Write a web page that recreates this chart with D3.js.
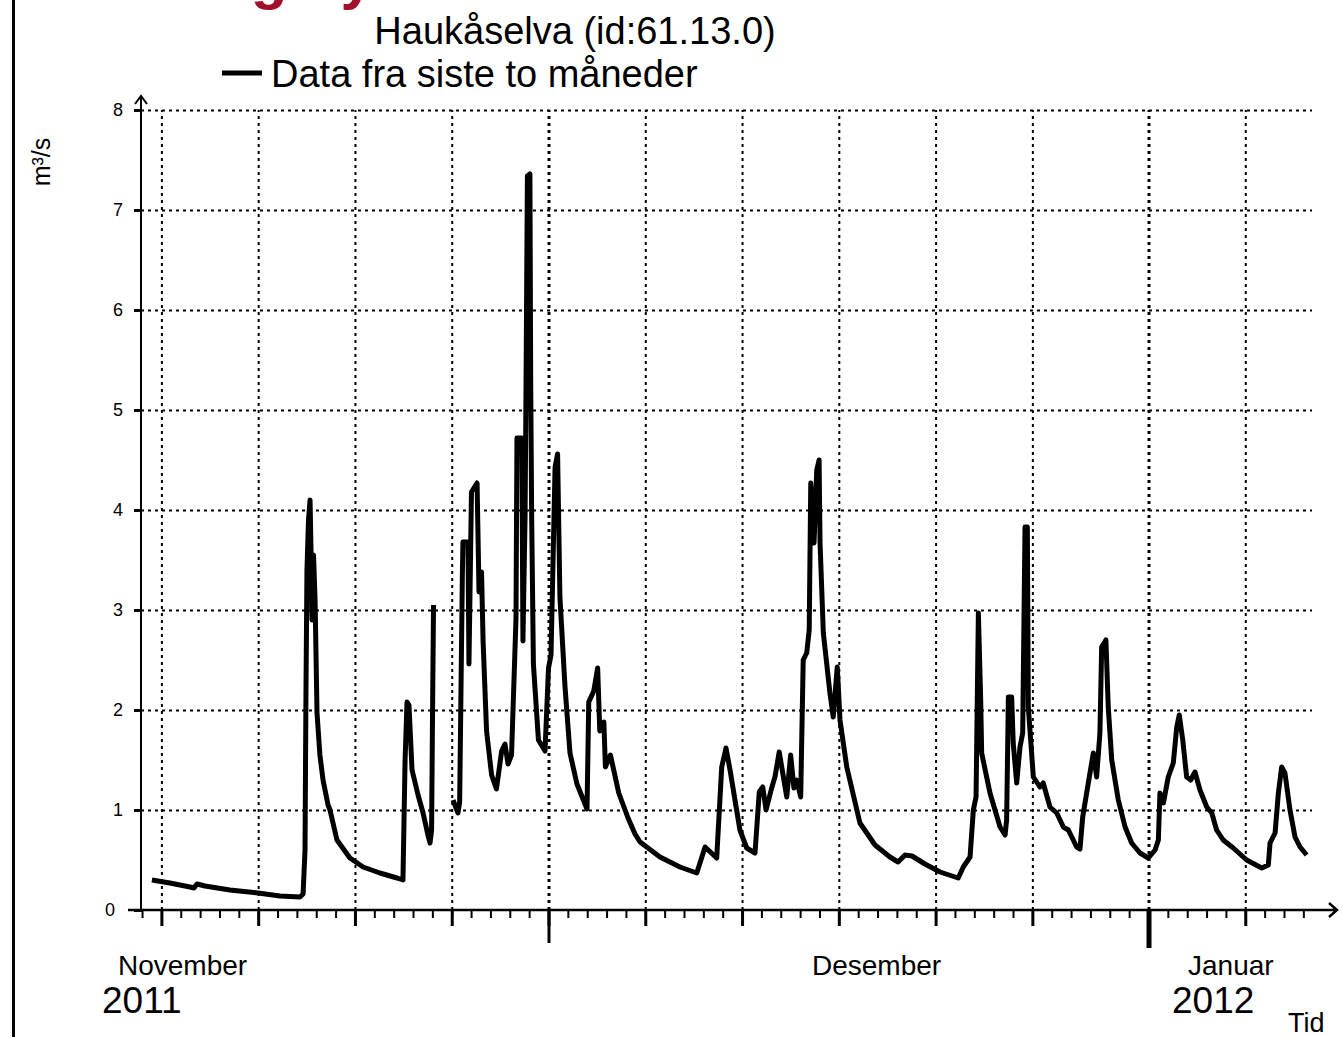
<!DOCTYPE html>
<html>
<head>
<meta charset="utf-8">
<script src="https://cdn.jsdelivr.net/npm/d3@7"></script>
<style>
  body { margin: 0; background: #fff; }
  svg text { font-family: "Liberation Sans", Arial, Helvetica, sans-serif; fill: #000; }
</style>
</head>
<body>
<div id="chart"></div>
<script>
// Haukåselva (id:61.13.0) - vannføring siste to måneder, m3/s
// day = days since 1 Nov 2011 00:00, flow null = hole in the series
const days = [
  9.51, 10.44, 11.48, 11.68, 11.84, 12.25, 13.54, 14.99, 16.13, 17.16,
  17.32, 17.42, 17.47, 17.52, 17.60, 17.68, 17.73, 17.78, 17.86, 17.94,
  18.04, 18.19, 18.35, 18.61, 18.71, 19.07, 19.74, 20.42, 21.29, 22.17,
  22.48, 22.59, 22.69, 22.79, 22.95, 23.26, 23.52, 23.77, 23.88, 23.96,
  24.01, 24.06, 24.50,
  25.07, 25.32, 25.41, 25.55, 25.58, 25.84, 25.89, 26.02, 26.31, 26.41,
  26.54, 26.62, 26.80, 27.06, 27.31, 27.58, 27.75, 27.91, 28.09, 28.17,
  28.32, 28.37, 28.62, 28.68, 28.79, 28.84, 28.91, 29.04, 29.08, 29.13,
  29.22, 29.48, 29.82, 30.00, 30.13, 30.34, 30.47, 30.59, 30.85, 31.11,
  31.47, 31.99, 32.08, 32.34, 32.54, 32.65, 32.86, 32.94, 33.20, 33.63,
  34.11, 34.47, 34.73, 35.76, 36.79, 37.66, 38.09, 38.69, 38.95, 39.17,
  39.38, 39.89, 40.24, 40.67, 40.89, 41.07, 41.24, 41.53, 41.70, 41.92,
  42.31, 42.51, 42.68, 42.82, 43.03, 43.16, 43.34, 43.47, 43.55, 43.72,
  43.86, 43.98, 44.03, 44.20, 44.54, 44.71, 44.92, 45.06, 45.41, 46.09,
  46.87, 47.64, 48.06, 48.42, 48.78, 49.45, 50.23, 51.17, 51.43, 51.78,
  51.95, 52.09, 52.21, 52.33, 52.38, 52.81, 53.33, 53.59, 53.67, 53.76,
  53.93, 54.01, 54.19, 54.36, 54.50, 54.62, 54.74, 54.79, 55.05, 55.39,
  55.56, 55.91, 56.26, 56.60, 56.86, 57.29, 57.46, 57.60, 57.89, 58.15,
  58.32, 58.49, 58.58, 58.80, 58.92, 59.10, 59.44, 59.79, 60.13, 60.56,
  60.99, 61.34, 61.51, 61.59, 61.77, 62.02, 62.28, 62.46, 62.59, 62.77,
  62.97, 63.18, 63.40, 63.66, 64.01, 64.27, 64.52, 64.86, 65.38, 66.07,
  66.85, 67.19, 67.28, 67.54, 67.71, 67.88, 68.05, 68.31, 68.57, 68.83,
  69.17
];
const flow = [
  0.30, 0.27, 0.23, 0.22, 0.26, 0.24, 0.20, 0.17, 0.14, 0.13,
  0.16, 0.60, 2.20, 3.40, 3.90, 4.10, 3.60, 2.90, 3.55, 3.10,
  1.97, 1.55, 1.30, 1.05, 1.00, 0.70, 0.52, 0.43, 0.37, 0.32,
  0.30, 1.50, 2.08, 2.05, 1.40, 1.15, 0.97, 0.75, 0.67, 0.80,
  2.00, 3.05, null,
  1.10, 0.97, 1.08, 3.36, 3.68, 3.68, 2.46, 4.18, 4.27, 3.18,
  3.38, 2.69, 1.79, 1.35, 1.21, 1.59, 1.66, 1.46, 1.55, 2.02,
  2.91, 4.72, 4.72, 2.69, 3.94, 5.28, 7.34, 7.36, 5.28, 3.94,
  2.46, 1.70, 1.59, 2.42, 2.55, 4.43, 4.56, 3.13, 2.24, 1.57,
  1.26, 1.01, 2.08, 2.19, 2.42, 1.79, 1.88, 1.43, 1.55, 1.17,
  0.92, 0.76, 0.68, 0.53, 0.43, 0.37, 0.63, 0.52, 1.43, 1.62,
  1.40, 0.80, 0.62, 0.57, 1.18, 1.23, 1.00, 1.22, 1.33, 1.58,
  1.13, 1.55, 1.22, 1.30, 1.13, 2.50, 2.57, 2.80, 4.27, 3.67,
  4.40, 4.50, 3.67, 2.77, 2.17, 1.93, 2.43, 1.90, 1.43, 0.87,
  0.65, 0.53, 0.48, 0.55, 0.54, 0.46, 0.38, 0.32, 0.43, 0.53,
  1.00, 1.13, 2.97, 2.10, 1.57, 1.17, 0.83, 0.75, 0.90, 2.13,
  2.13, 1.67, 1.27, 1.63, 1.77, 3.83, 3.83, 2.03, 1.33, 1.23,
  1.27, 1.03, 0.97, 0.83, 0.80, 0.63, 0.61, 0.93, 1.27, 1.57,
  1.33, 1.77, 2.63, 2.70, 2.03, 1.50, 1.10, 0.83, 0.67, 0.57,
  0.52, 0.60, 0.70, 1.17, 1.07, 1.33, 1.47, 1.83, 1.95, 1.70,
  1.33, 1.30, 1.38, 1.20, 1.03, 0.97, 0.80, 0.70, 0.62, 0.50,
  0.42, 0.45, 0.67, 0.77, 1.17, 1.43, 1.37, 1.00, 0.73, 0.63,
  0.55
];

const yTickValues = [0, 1, 2, 3, 4, 5, 6, 7, 8];
const monthNames = ["November", "Desember", "Januar"];
const yearNames = ["2011", "2012"];
const titleText = "Haukåselva (id:61.13.0)";
const legendText = "Data fra siste to måneder";

const width = 1343;
const height = 1037;

const svg = d3.select("#chart")
  .append("svg")
  .attr("width", width)
  .attr("height", height)
  .style("background", "#fff");

const t0 = new Date(2011, 10, 1);
const data = days.map((d, i) => ({ t: new Date(t0.getTime() + d * 864e5), v: flow[i] }));

const x = d3.scaleTime()
  .domain([new Date(2011, 11, 1), new Date(2012, 0, 1)])
  .range([548.5, 1148.5]);

const y = d3.scaleLinear()
  .domain([0, 8])
  .range([910, 110]);

const allDays = d3.timeDay.range(new Date(2011, 10, 10), new Date(2012, 0, 10));
const majorDays = allDays.filter(d => [1, 6, 11, 16, 21, 26].includes(d.getDate()));
const monthDays = allDays.filter(d => d.getDate() === 1);

// left border bar
svg.append("rect")
  .attr("x", 12).attr("y", 0)
  .attr("width", 3).attr("height", height)
  .attr("fill", "#000");

// red page heading, cut off at the top: only the descenders show
svg.append("text")
  .attr("x", 374)
  .attr("y", -2)
  .attr("text-anchor", "end")
  .style("font-size", "60px")
  .style("font-weight", "bold")
  .style("fill", "#a0102a")
  .text("Vannføring by");

// title and legend
svg.append("text")
  .attr("x", 575)
  .attr("y", 44)
  .attr("text-anchor", "middle")
  .style("font-size", "38px")
  .text(titleText);

svg.append("line")
  .attr("x1", 222).attr("x2", 262)
  .attr("y1", 73).attr("y2", 73)
  .attr("stroke", "#000")
  .attr("stroke-width", 5);

svg.append("text")
  .attr("x", 271)
  .attr("y", 87)
  .style("font-size", "38px")
  .text(legendText);

// grid
svg.append("g")
  .attr("transform", "translate(0,910)")
  .call(d3.axisBottom(x).tickValues(majorDays).tickSize(-800).tickFormat(""))
  .call(g => g.select(".domain").remove())
  .selectAll("line")
  .attr("stroke", "#000")
  .attr("stroke-width", d => d.getDate() === 1 ? 3 : 2)
  .attr("stroke-dasharray", "3,4");

svg.append("g")
  .attr("transform", "translate(141,0)")
  .call(d3.axisLeft(y).tickValues(yTickValues.slice(1)).tickSize(-(1312 - 141)).tickFormat(""))
  .call(g => g.select(".domain").remove())
  .selectAll("line")
  .attr("stroke", "#000")
  .attr("stroke-width", 2)
  .attr("stroke-dasharray", "3,4");

// x ticks: days, every 5th day, month starts
const tickLayers = [
  { values: allDays, size: 8, w: 2 },
  { values: majorDays, size: 16, w: 3 },
  { values: monthDays.filter(d => d.getMonth() !== 0), size: 33, w: 3 },
  { values: monthDays.filter(d => d.getMonth() === 0), size: 38, w: 5 }
];
tickLayers.forEach(l => {
  svg.append("g")
    .attr("transform", "translate(0,910)")
    .call(d3.axisBottom(x).tickValues(l.values).tickSize(l.size).tickFormat(""))
    .call(g => g.select(".domain").remove())
    .selectAll("line")
    .attr("stroke", "#000")
    .attr("stroke-width", l.w);
});

// y axis
const yAxis = svg.append("g")
  .attr("transform", "translate(141,0)")
  .call(d3.axisLeft(y).tickValues(yTickValues).tickSize(7).tickPadding(11))
  .call(g => g.select(".domain").remove());
yAxis.selectAll("line").attr("stroke", "#000").attr("stroke-width", 3);
yAxis.selectAll("text")
  .style("font-size", "18px")
  .attr("dx", d => d === 0 ? -8 : 0);

// axis lines with arrows
svg.append("path")
  .attr("d", "M128,910H1337M1329,903L1337,910L1329,917")
  .attr("fill", "none")
  .attr("stroke", "#000")
  .attr("stroke-width", 2.5);

svg.append("path")
  .attr("d", "M141,912V96M135,104L141,96L147,104")
  .attr("fill", "none")
  .attr("stroke", "#000")
  .attr("stroke-width", 2);

// y axis unit
svg.append("text")
  .attr("transform", "translate(50,162) rotate(-90)")
  .attr("text-anchor", "middle")
  .style("font-size", "25px")
  .text("m³/s");

// x labels
const monthX = [118, 812, 1188];
svg.selectAll(".month")
  .data(monthNames)
  .join("text")
  .attr("class", "month")
  .attr("x", (d, i) => monthX[i])
  .attr("y", 975)
  .style("font-size", "28px")
  .text(d => d);

const yearX = [102, 1172];
svg.selectAll(".year")
  .data(yearNames)
  .join("text")
  .attr("class", "year")
  .attr("x", (d, i) => yearX[i])
  .attr("y", 1013)
  .style("font-size", "37px")
  .text(d => d);

svg.append("text")
  .attr("x", 1288)
  .attr("y", 1032)
  .style("font-size", "27px")
  .text("Tid");

// the series
const line = d3.line()
  .defined(d => d.v != null)
  .x(d => x(d.t))
  .y(d => y(d.v));

svg.append("path")
  .datum(data)
  .attr("d", line)
  .attr("fill", "none")
  .attr("stroke", "#000")
  .attr("stroke-width", 5)
  .attr("stroke-linejoin", "round");
</script>
</body>
</html>
